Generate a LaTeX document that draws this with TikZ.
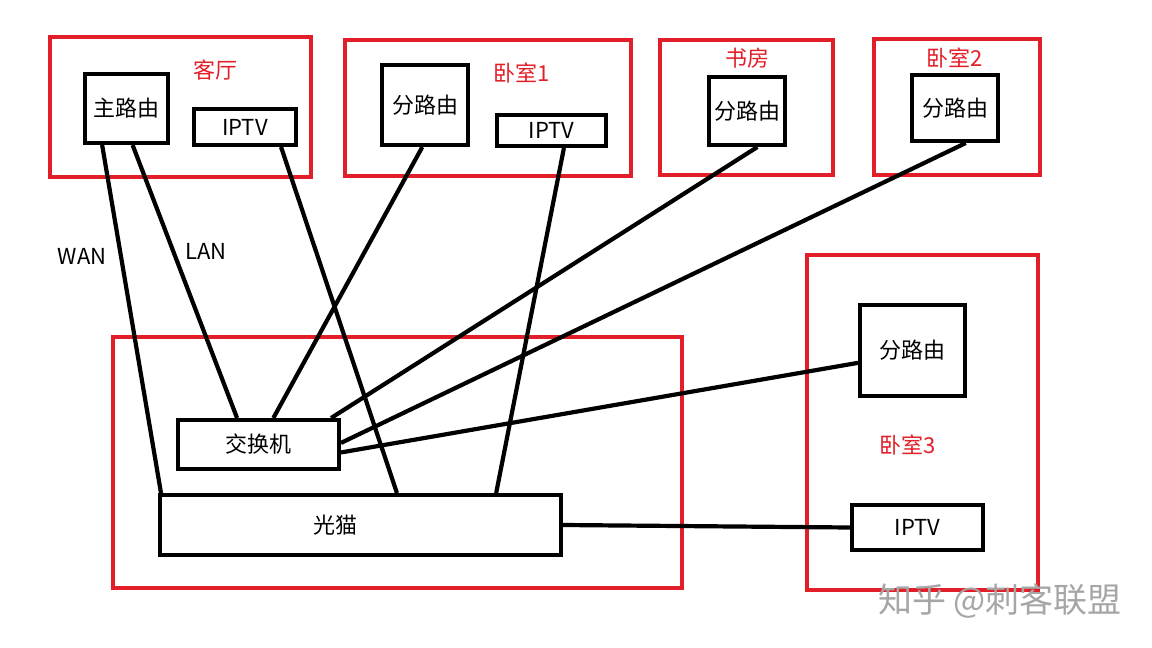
\documentclass[tikz,border=0pt]{standalone}
\usepackage{fontspec}
\setmainfont{Noto Sans CJK SC}
\usetikzlibrary{calc}
\definecolor{roomred}{RGB}{226,30,40}

\begin{document}
\begin{tikzpicture}[x=1pt,y=-1pt,
  room/.style={draw=roomred,line width=4pt},
  roomname/.style={text=roomred,font=\fontsize{22}{26}\selectfont},
  device/.style={draw,line width=4pt,inner sep=0pt,font=\fontsize{22}{26}\selectfont},
  cable/.style={line width=4.2pt},
  tag/.style={font=\fontsize{22}{26}\selectfont}]
  % Boundary
  \path[use as bounding box] (0,0) rectangle (1152,648);
  % Rooms
  \draw[room] (50,37) rectangle (311,177);
  \draw[room] (345,40) rectangle (631,176);
  \draw[room] (660,40) rectangle (833,175);
  \draw[room] (874,39) rectangle (1040,175);
  \draw[room] (807,255) rectangle (1038,590);
  \draw[room] (113,337) rectangle (682,588);
  % Room names
  \node[roomname] (livingname) at (215,70) {客厅};
  \node[roomname] (bedonename) at (522,73) {卧室1};
  \node[roomname] (studyname) at (747,58) {书房};
  \node[roomname] (bedtwoname) at (955,58) {卧室2};
  \node[roomname] (bedthreename) at (908,445) {卧室3};
  % Devices
  \node[device,minimum width=83pt,minimum height=69pt] (mainrouter) at (126.5,108.5) {主路由};
  \node[device,minimum width=102pt,minimum height=36pt] (livingtv) at (245,127) {IPTV};
  \node[device,minimum width=86pt,minimum height=80pt] (bedonerouter) at (425,105) {分路由};
  \node[device,minimum width=109pt,minimum height=31pt] (bedonetv) at (551.5,130.5) {IPTV};
  \node[device,minimum width=76pt,minimum height=68pt] (studyrouter) at (747,111) {分路由};
  \node[device,minimum width=86pt,minimum height=66pt] (bedtworouter) at (955,108) {分路由};
  \node[device,minimum width=105pt,minimum height=91pt] (bedthreerouter) at (912.5,350.5) {分路由};
  \node[device,minimum width=131pt,minimum height=45pt] (bedthreetv) at (917.5,527.5) {IPTV};
  \node[device,minimum width=161pt,minimum height=49pt] (switch) at (258.5,444.5) {交换机};
  \node[device,minimum width=401pt,minimum height=60pt,
        label={[tag,xshift=-25pt]center:光猫}] (modem) at (360.5,525) {};
  % Port names
  \node[tag] (wanlabel) at (82,256) {WAN};
  \node[tag] (lanlabel) at (206,251) {LAN};
  % Cables
  \draw[cable] ($(mainrouter.south west)!0.22!(mainrouter.south east)$) -- ($(modem.north west)+(3,0)$);
  \draw[cable] ($(mainrouter.south west)!0.57!(mainrouter.south east)$) -- ($(switch.north west)!0.37!(switch.north east)$);
  \draw[cable] ($(livingtv.south west)!0.84!(livingtv.south east)$) -- ($(modem.north west)!0.59!(modem.north east)$);
  \draw[cable] ($(bedonerouter.south west)!0.47!(bedonerouter.south east)$) -- ($(switch.north west)!0.59!(switch.north east)$);
  \draw[cable] ($(bedonetv.south west)!0.61!(bedonetv.south east)$) -- ($(modem.north west)!0.835!(modem.north east)$);
  \draw[cable] ($(studyrouter.south west)!0.63!(studyrouter.south east)$) -- ($(switch.north west)!0.94!(switch.north east)$);
  \draw[cable] ($(bedtworouter.south west)!0.62!(bedtworouter.south east)$) -- ($(switch.north east)!0.47!(switch.south east)$);
  \draw[cable] ($(bedthreerouter.north west)!0.63!(bedthreerouter.south west)$) -- ($(switch.north east)!0.65!(switch.south east)$);
  \draw[cable] (modem.east) -- (bedthreetv.west);
  % Watermark
  \node[text=black!35,font=\fontsize{34}{38}\selectfont] (watermark) at (1000,601) {知乎 @刺客联盟};
\end{tikzpicture}
\end{document}
